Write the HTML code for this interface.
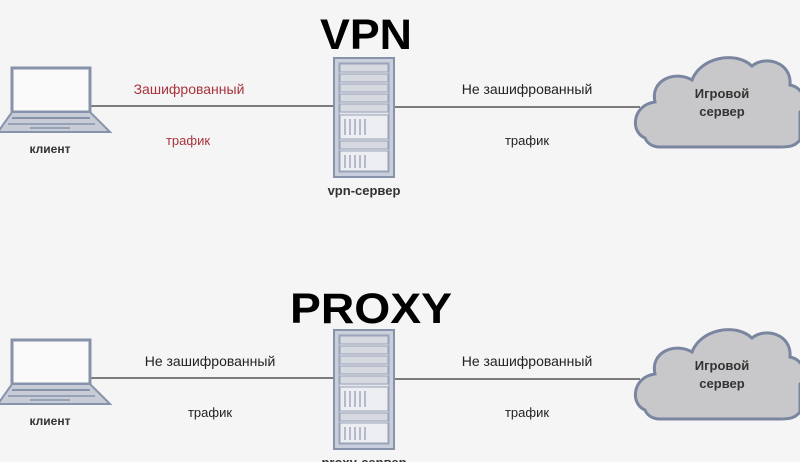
<!DOCTYPE html>
<html><head><meta charset="utf-8"><style>
html,body{margin:0;padding:0;background:#f5f5f5;}
svg{display:block;}
text{font-family:"Liberation Sans",sans-serif;}
</style></head><body>
<svg width="800" height="462" viewBox="0 0 800 462" xmlns="http://www.w3.org/2000/svg">
<defs>
<g id="laptop">
  <rect x="12" y="68" width="78" height="44" fill="#fafafa" stroke="#8793ab" stroke-width="3"/>
  <polygon points="12,112 90,112 110,132 -2,132" fill="#c8ccd6" stroke="#8793ab" stroke-width="2"/>
  <line x1="12" y1="118" x2="90" y2="118" stroke="#8793ab" stroke-width="2"/>
  <line x1="8" y1="124" x2="95" y2="124" stroke="#8793ab" stroke-width="1.5"/>
  <line x1="30" y1="128" x2="70" y2="128" stroke="#8793ab" stroke-width="1.5"/>
</g>
<g id="server">
  <rect x="334" y="58" width="60" height="119" fill="#c9cfdc" stroke="#8793ab" stroke-width="2"/>
  <rect x="339" y="63" width="50" height="109" fill="#e4e6ec" stroke="#9aa3b8" stroke-width="1"/>
  <rect x="340" y="64" width="48" height="8" fill="#d6d9e0" stroke="#9aa3b8"/>
  <rect x="340" y="74" width="48" height="8" fill="#d6d9e0" stroke="#9aa3b8"/>
  <rect x="340" y="84" width="48" height="8" fill="#d6d9e0" stroke="#9aa3b8"/>
  <rect x="340" y="94" width="48" height="8" fill="#d6d9e0" stroke="#9aa3b8"/>
  <rect x="340" y="104" width="48" height="8" fill="#d6d9e0" stroke="#9aa3b8"/>
  <rect x="340" y="115" width="48" height="24" fill="#eceef2" stroke="#9aa3b8"/>
  <rect x="340" y="141" width="48" height="8" fill="#d6d9e0" stroke="#9aa3b8"/>
  <rect x="340" y="151" width="48" height="20" fill="#eceef2" stroke="#9aa3b8"/>
  <g stroke="#b4bacb" stroke-width="2">
    <line x1="345" y1="119" x2="345" y2="135"/><line x1="350" y1="119" x2="350" y2="135"/><line x1="355" y1="119" x2="355" y2="135"/><line x1="360" y1="119" x2="360" y2="135"/><line x1="365" y1="119" x2="365" y2="135"/>
    <line x1="345" y1="155" x2="345" y2="168"/><line x1="350" y1="155" x2="350" y2="168"/><line x1="355" y1="155" x2="355" y2="168"/><line x1="360" y1="155" x2="360" y2="168"/><line x1="365" y1="155" x2="365" y2="168"/>
  </g>
</g>
<path id="cloud" d="M645,138 C630,132 632,105 655,102 C650,80 675,70 692,80 C700,58 735,50 752,66 C765,55 792,62 790,85 C805,88 808,105 800,112 L800,140 C795,146 790,147 780,147 L660,147 C652,147 647,143 645,138 Z" fill="#c8c8ca" stroke="#7a86a0" stroke-width="3"/>
</defs>

<text x="320" y="49" font-size="43" font-weight="bold" textLength="92" lengthAdjust="spacingAndGlyphs" fill="#000">VPN</text>
<line x1="90" y1="106" x2="334" y2="106" stroke="#555" stroke-width="1.5"/>
<line x1="394" y1="107" x2="640" y2="107" stroke="#555" stroke-width="1.5"/>
<use href="#laptop"/>
<use href="#server"/>
<use href="#cloud"/>
<text x="50" y="153" font-size="12" font-weight="bold" text-anchor="middle" fill="#333">клиент</text>
<text x="189" y="94" font-size="14" text-anchor="middle" fill="#a8333d">Зашифрованный</text>
<text x="188" y="145" font-size="13" text-anchor="middle" fill="#a8333d">трафик</text>
<text x="364" y="195" font-size="13" font-weight="bold" text-anchor="middle" fill="#333">vpn-сервер</text>
<text x="527" y="94" font-size="14" text-anchor="middle" fill="#222">Не зашифрованный</text>
<text x="527" y="145" font-size="13" text-anchor="middle" fill="#222">трафик</text>
<text x="722" y="98" font-size="13" font-weight="bold" text-anchor="middle" fill="#333">Игровой</text>
<text x="722" y="116" font-size="13" font-weight="bold" text-anchor="middle" fill="#333">сервер</text>

<text x="290" y="323" font-size="43" font-weight="bold" textLength="162" lengthAdjust="spacingAndGlyphs" fill="#000">PROXY</text>
<g transform="translate(0,272)">
<line x1="90" y1="106" x2="334" y2="106" stroke="#555" stroke-width="1.5"/>
<line x1="394" y1="107" x2="640" y2="107" stroke="#555" stroke-width="1.5"/>
<use href="#laptop"/>
<use href="#server"/>
<use href="#cloud"/>
<text x="50" y="153" font-size="12" font-weight="bold" text-anchor="middle" fill="#333">клиент</text>
<text x="210" y="94" font-size="14" text-anchor="middle" fill="#222">Не зашифрованный</text>
<text x="210" y="145" font-size="13" text-anchor="middle" fill="#222">трафик</text>
<text x="364" y="195" font-size="13" font-weight="bold" text-anchor="middle" fill="#333">proxy-сервер</text>
<text x="527" y="94" font-size="14" text-anchor="middle" fill="#222">Не зашифрованный</text>
<text x="527" y="145" font-size="13" text-anchor="middle" fill="#222">трафик</text>
<text x="722" y="98" font-size="13" font-weight="bold" text-anchor="middle" fill="#333">Игровой</text>
<text x="722" y="116" font-size="13" font-weight="bold" text-anchor="middle" fill="#333">сервер</text>
</g>
</svg>
</body></html>
